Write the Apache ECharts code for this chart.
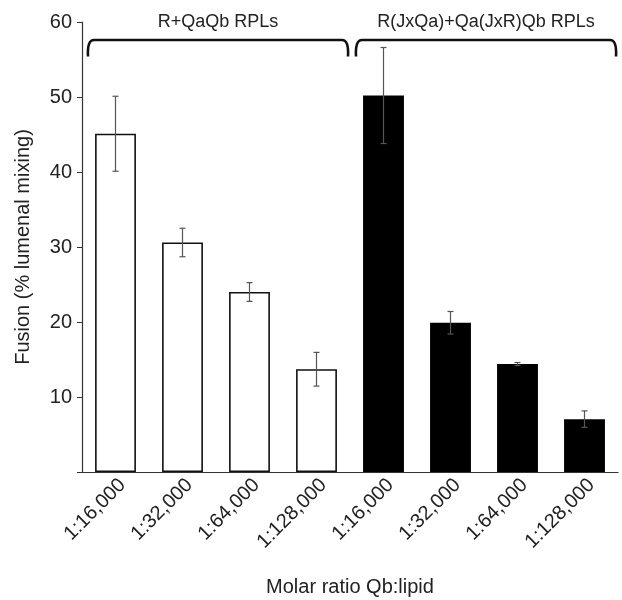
<!DOCTYPE html>
<html>
<head>
<meta charset="utf-8">
<script src="https://cdn.jsdelivr.net/npm/echarts@6/dist/echarts.min.js"></script>
<style>
  html, body { margin: 0; padding: 0; background: #fff; }
  #main { width: 622px; height: 600px; }
</style>
</head>
<body>
<div id="main"></div>
<script>
// x categories (molar ratio Qb:lipid)
var categories = ["1:16,000", "1:32,000", "1:64,000", "1:128,000",
                  "1:16,000", "1:32,000", "1:64,000", "1:128,000"];
// R+QaQb RPLs (open bars)
var openValues = [45.1, 30.6, 24.0, 13.7];
var openErrors = [5.0, 1.9, 1.25, 2.25];
// R(JxQa)+Qa(JxR)Qb RPLs (filled bars)
var filledValues = [50.2, 19.9, 14.4, 7.05];
var filledErrors = [6.4, 1.5, 0.2, 1.1];
// group brackets: first and last category index
var groupNames = ["R+QaQb RPLs", "R(JxQa)+Qa(JxR)Qb RPLs"];
var groupRanges = [[0, 3], [4, 7]];
var yTicks = [0, 10, 20, 30, 40, 50, 60];

var FONT = "'Liberation Sans', Arial, Helvetica, sans-serif";

var barData = [];
var errData = [];
openValues.forEach(function (v, i) {
  barData.push({ value: v, itemStyle: { color: "#fff", borderColor: "#111", borderWidth: 1.6 } });
  errData.push([i, v, openErrors[i]]);
});
filledValues.forEach(function (v, i) {
  barData.push({ value: v, itemStyle: { color: "#000", borderColor: "#000", borderWidth: 0 } });
  errData.push([i + 4, v, filledErrors[i]]);
});

var bracketData = groupRanges.map(function (r, i) { return [r[0], r[1], groupNames[i]]; });

var myChart = echarts.init(document.getElementById("main"));

myChart.setOption({
  animation: false,
  textStyle: { fontFamily: FONT },
  grid: { left: 82, right: 4, top: 22, bottom: 128, containLabel: false, outerBoundsMode: "none" },
  xAxis: {
    type: "category",
    data: categories,
    name: "Molar ratio Qb:lipid",
    nameLocation: "middle",
    nameGap: 105,
    nameTextStyle: { fontSize: 20, color: "#222", fontFamily: FONT },
    axisLine: { lineStyle: { color: "#333", width: 1.2 } },
    axisTick: { show: false },
    axisLabel: {
      rotate: 45, fontSize: 20, color: "#222", margin: 3, interval: 0,
      verticalAlign: "top", fontFamily: FONT
    }
  },
  yAxis: {
    type: "value",
    min: yTicks[0],
    max: yTicks[yTicks.length - 1],
    interval: 10,
    name: "Fusion (% lumenal mixing)",
    nameLocation: "middle",
    nameGap: 49,
    nameRotate: 90,
    nameTextStyle: { fontSize: 20, color: "#222", fontFamily: FONT },
    splitLine: { show: false },
    axisLine: { show: true, lineStyle: { color: "#333", width: 1.2 } },
    axisTick: { show: true, length: 5, lineStyle: { color: "#333" } },
    axisLabel: {
      fontSize: 20, color: "#222", margin: 10, fontFamily: FONT,
      formatter: function (v) { return v === 0 ? "" : String(v); }
    }
  },
  series: [
    {
      type: "bar",
      data: barData,
      barWidth: "61%"
    },
    {
      // error bars
      type: "custom",
      data: errData,
      z: 5,
      renderItem: function (params, api) {
        var x = api.value(0), v = api.value(1), e = api.value(2);
        var top = api.coord([x, v + e]);
        var bot = api.coord([x, v - e]);
        var c = 3;
        var st = { stroke: "#555", lineWidth: 1.2 };
        return {
          type: "group",
          children: [
            { type: "line", shape: { x1: top[0], y1: top[1], x2: bot[0], y2: bot[1] }, style: st },
            { type: "line", shape: { x1: top[0] - c, y1: top[1], x2: top[0] + c, y2: top[1] }, style: st },
            { type: "line", shape: { x1: bot[0] - c, y1: bot[1], x2: bot[0] + c, y2: bot[1] }, style: st }
          ]
        };
      }
    },
    {
      // group brackets and labels
      type: "custom",
      data: bracketData,
      clip: false,
      z: 6,
      renderItem: function (params, api) {
        var bw = api.size([1, 0])[0];
        var a = api.coord([api.value(0), 57.6]);
        var b = api.coord([api.value(1), 57.6]);
        var bottom = api.coord([0, 55.4])[1];
        var textY = api.coord([0, 60])[1];
        var x1 = a[0] - bw * 0.41, x2 = b[0] + bw * 0.47, y = a[1];
        var r = 6;
        var name = groupNames[params.dataIndex];
        return {
          type: "group",
          children: [
            {
              type: "path",
              shape: {
                pathData: "M" + x1 + "," + bottom +
                  " Q" + (x1 - 1) + "," + y + " " + (x1 + r) + "," + y +
                  " L" + (x2 - r) + "," + y +
                  " Q" + (x2 + 1) + "," + y + " " + x2 + "," + bottom
              },
              style: { stroke: "#111", lineWidth: 2.6, fill: null }
            },
            {
              type: "text",
              x: (x1 + x2) / 2,
              y: textY,
              style: {
                text: name, fill: "#222", fontSize: 18, fontFamily: FONT,
                align: "center", verticalAlign: "middle"
              }
            }
          ]
        };
      }
    }
  ]
});
</script>
</body>
</html>
